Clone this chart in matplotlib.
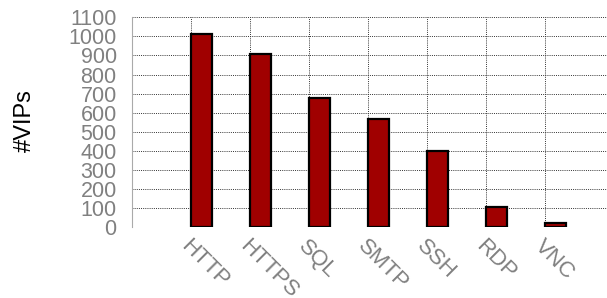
import matplotlib
matplotlib.use("Agg")
import matplotlib.pyplot as plt
import numpy as np

categories = ["HTTP", "HTTPS", "SQL", "SMTP", "SSH", "RDP", "VNC"]
vips = [1010, 910, 677, 565, 400, 108, 22]
yticks = list(range(0, 1101, 100))

plt.rcParams['font.family'] = ['Liberation Sans', 'DejaVu Sans']

fig = plt.figure(figsize=(6.07, 2.98), dpi=100)
ax = fig.add_axes([0.2175, 0.237, 0.7825, 0.705])

x = np.arange(len(categories))
ax.bar(x, vips, width=0.355, align='edge', color='#a00000',
       edgecolor='black', linewidth=1.6, zorder=3)

ax.set_xlim(-1, 7.05)
ax.set_ylim(0, 1100)
ax.set_yticks(yticks)
ax.set_yticklabels([str(v) for v in yticks], color='#808080', fontsize=15.5)
ax.set_xticks(x)
ax.set_xticklabels(categories, rotation=-45, ha='left', va='top',
                   rotation_mode='anchor', color='#808080', fontsize=16)
ax.tick_params(axis='both', length=0)
ax.tick_params(axis='y', pad=11)
ax.tick_params(axis='x', pad=6)

ax.grid(True, linestyle=(0, (1, 1.2)), color='#333333', linewidth=0.7, zorder=0)
for s in ['top', 'right', 'bottom']:
    ax.spines[s].set_visible(False)
ax.spines['left'].set_linestyle((0, (1, 1)))
ax.spines['left'].set_color('#aaaaaa')
ax.spines['left'].set_linewidth(0.8)

fig.text(0.041, 0.595, "#VIPs", rotation=90, ha='center', va='center', fontsize=17, color='black')

fig.savefig("out.png", dpi=100)
